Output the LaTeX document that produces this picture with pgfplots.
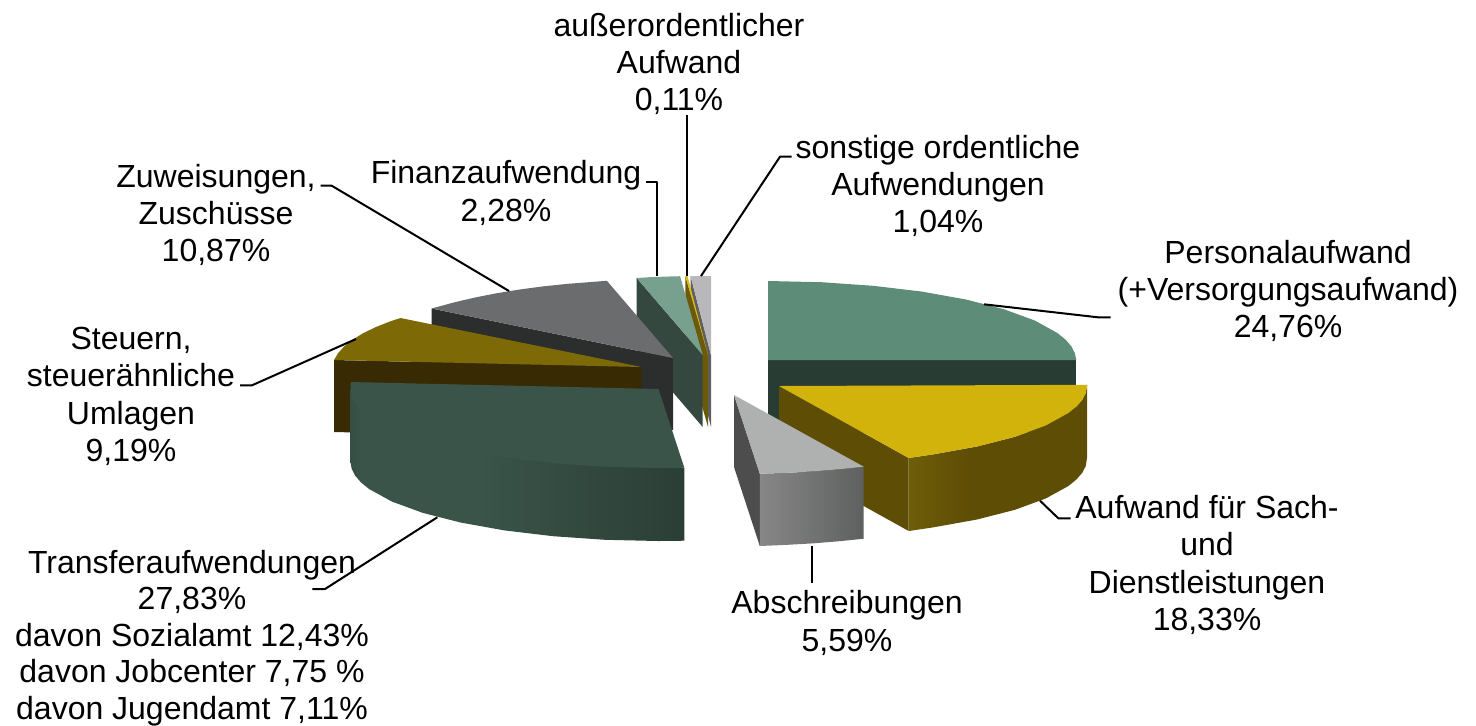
\documentclass[border=0pt]{standalone}
\usepackage{pgfplots}
\pgfplotsset{compat=1.18}
\usepackage{fontspec}
\setmainfont{Liberation Sans}
\definecolor{perT}{HTML}{5D8C79}
\definecolor{perW}{HTML}{293C33}
\definecolor{yelT}{HTML}{D2B30B}
\definecolor{yelW}{HTML}{5E4D05}
\definecolor{yelL}{HTML}{6E5D08}
\definecolor{grT}{HTML}{AFB1B0}
\definecolor{grW}{HTML}{4D4D4D}
\definecolor{grL}{HTML}{878787}
\definecolor{grR}{HTML}{5E5F5F}
\definecolor{trT}{HTML}{3A5449}
\definecolor{trL}{HTML}{364E44}
\definecolor{trR}{HTML}{2B3E36}
\definecolor{stT}{HTML}{7D6A07}
\definecolor{stW}{HTML}{382B03}
\definecolor{zuT}{HTML}{6B6C6E}
\definecolor{zuW}{HTML}{2C2E2E}
\definecolor{fiT}{HTML}{77A08F}
\definecolor{fiW}{HTML}{344840}
\definecolor{auT}{HTML}{D9BA10}
\definecolor{auW}{HTML}{6B5A0C}
\definecolor{soT}{HTML}{B8B8BA}
\definecolor{soW}{HTML}{5F5F60}
\pgfdeclarehorizontalshading{trshade}{100bp}{color(0bp)=(trL); color(25bp)=(trL); color(26.5bp)=(trT); color(44bp)=(trT); color(75bp)=(trR); color(100bp)=(trR)}
\pgfdeclarehorizontalshading{yeshade}{100bp}{color(0bp)=(yelL); color(25bp)=(yelL); color(42bp)=(yelW); color(100bp)=(yelW)}
\pgfdeclarehorizontalshading{grshade}{100bp}{color(0bp)=(grL); color(25bp)=(grL); color(75bp)=(grR); color(100bp)=(grR)}
\pgfplotsset{
  face/.style={draw=none,fill=#1,mark=none,forget plot},
  sface/.style={draw=none,shade,shading=#1,mark=none,forget plot},
  lead/.style={black,line width=1pt,mark=none,forget plot,line join=round}
}
\newcommand{\lab}[3]{\node[align=center,inner sep=0pt,font=\fontsize{16}{18.7}\selectfont] at (axis cs:#1,#2) {#3};}
\begin{document}
\begin{tikzpicture}
\useasboundingbox (0,0) rectangle (738pt,362.5pt);
\begin{axis}[
  anchor=south west, at={(0,0)},
  scale only axis, width=738pt, height=362.5pt,
  xmin=0, xmax=1476, ymin=0, ymax=725, y dir=reverse,
  hide axis, clip=false]
% sonstige ordentliche Aufwendungen
\addplot[face=soW] coordinates {(690.6,276.2)(711,355)(711,427)(690.6,348)} -- cycle;
\addplot[face=soT] coordinates {(690.6,276.2)(700,276)(711,276)(711,355)} -- cycle;
% außerordentlicher Aufwand
\addplot[face=auW] coordinates {(685.4,276.2)(708,355)(708,427)(685.4,348)} -- cycle;
\addplot[face=auT] coordinates {(685.4,276.2)(687.6,276.2)(708,355)} -- cycle;
% Finanzaufwendung
\addplot[face=fiW] coordinates {(636.7,278)(702.7,355)(702.7,427)(636.7,350)} -- cycle;
\addplot[face=fiT] coordinates {(636.7,278)(649.2,277.2)(665.2,276.6)(680.1,276.2)(702.7,355)} -- cycle;
% Zuweisungen, Zuschüsse
\addplot[face=zuW] coordinates {(431.5,308.5)(673,358)(673,430)(431.5,380.5)} -- cycle;
\addplot[face=zuT] coordinates {(606.9,280.8)(567.7,283.8)(542.8,286.4)(519,289.6)(496.3,293.3)(475,297.5)(455.2,302.1)(431.5,308.5)(673,358)} -- cycle;
% Steuern
\addplot[face=stW] coordinates {(334,360)(641.5,367)(641.5,439)(334,432)} -- cycle;
\addplot[face=stT] coordinates {(400.5,318)(389.2,321.7)(374.8,327.5)(362.4,333.6)(352.1,340)(344,346.6)(338,353.3)(334,360)(641.5,367)} -- cycle;
% Personalaufwand
\addplot[face=perW] coordinates {(768,360)(1076,360)(1076,432)(768,432)} -- cycle;
\addplot[face=perT] coordinates {(768,281)(821.5,282.2)(873.3,285.8)(922,291.6)(966,299.5)(1003.9,309.2)(1034.7,320.5)(1057.4,333)(1065.5,339.6)(1071.3,346.3)(1074.8,353.1)(1076,358.8)(1076,360)(768,360)} -- cycle;
% Transferaufwendungen
\addplot[sface=trshade] coordinates {(684.3,467.7)(658.5,464)(605,462.8)(553.2,459.2)(504.5,453.4)(460.5,445.5)(422.6,435.8)(391.8,424.5)(369.1,412)(361,405.4)(355.2,398.7)(351.7,391.9)(350.5,389)(350.5,462)(351.7,468.9)(355.2,475.7)(361,482.4)(369.1,489)(391.8,501.5)(422.6,512.8)(460.5,522.5)(504.5,530.4)(553.2,536.2)(605,539.8)(658.5,541)(684.3,540.7)} -- cycle;
\addplot[face=trT] coordinates {(658.5,389)(684.3,467.7)(658.5,468)(605,466.8)(553.2,463.2)(504.5,457.4)(460.5,449.5)(422.6,439.8)(391.8,428.5)(369.1,416)(361,409.4)(355.2,402.7)(351.7,395.9)(350.5,389)(350.5,382)} -- cycle;
% Aufwand für Sach- und Dienstleistungen
\addplot[face=yelW] coordinates {(779,386)(908.7,458)(908.7,531)(779,459)} -- cycle;
\addplot[sface=yeshade] coordinates {(1087,384.8)(1085.8,392.9)(1082.3,399.7)(1076.5,406.4)(1068.4,413)(1045.7,425.5)(1014.9,436.8)(977,446.5)(933,454.4)(908.7,458)(908.7,531)(933,527.4)(977,519.5)(1014.9,509.8)(1045.7,498.5)(1068.4,486)(1076.5,479.4)(1082.3,472.7)(1085.8,465.9)(1087,457.8)} -- cycle;
\addplot[face=yelT] coordinates {(779,386)(1087,384.8)(1085.8,392.9)(1082.3,399.7)(1076.5,406.4)(1068.4,413)(1045.7,425.5)(1014.9,436.8)(977,446.5)(933,454.4)(908.7,458)} -- cycle;
% Abschreibungen
\addplot[face=grW] coordinates {(734,395)(759.8,473.7)(759.8,546)(734,467)} -- cycle;
\addplot[sface=grshade] coordinates {(863.7,466.7)(839.3,469.2)(813.7,471.3)(787.5,472.8)(759.8,473.7)(759.8,546)(787.5,544.8)(813.7,543.3)(839.3,541.2)(863.7,538.7)} -- cycle;
\addplot[face=grT] coordinates {(734,395)(863.7,466.7)(839.3,469.2)(813.7,471.3)(787.5,472.8)(759.8,473.7)} -- cycle;
% leader lines
\addplot[lead] coordinates {(984,304.3)(1098,317.3)(1110.7,317.3)};
\addplot[lead] coordinates {(1040,500.7)(1058.3,518.3)(1070.7,518.3)};
\addplot[lead] coordinates {(811.7,546)(811.7,583)};
\addplot[lead] coordinates {(437.3,517.3)(325,589)(312.3,589)};
\addplot[lead] coordinates {(356,339)(252,385.3)(240,385.3)};
\addplot[lead] coordinates {(509,291)(331.7,185.7)(320.7,185.7)};
\addplot[lead] coordinates {(657.3,276)(657.3,181.7)(646,181.7)};
\addplot[lead] coordinates {(686.7,276)(686.7,115.3)};
\addplot[lead] coordinates {(701,276)(780,156.7)(791.7,156.7)};
% labels
\lab{679}{64}{außerordentlicher\\Aufwand\\0,11\%}
\lab{938}{186}{sonstige ordentliche\\Aufwendungen\\1,04\%}
\lab{1288}{291}{Personalaufwand\\(+Versorgungsaufwand)\\24,76\%}
\lab{1207}{565}{Aufwand für Sach-\\und\\Dienstleistungen\\18,33\%}
\lab{847}{623}{Abschreibungen\\5,59\%}
\node[align=center,inner sep=0pt,font=\fontsize{16}{18.3}\selectfont] at (axis cs:192,638) {Transferaufwendungen\\27,83\%\\davon Sozialamt 12,43\%\\davon Jobcenter 7,75 \%\\davon Jugendamt 7,11\%};
\lab{131}{396.5}{Steuern,\\steuerähnliche\\Umlagen\\9,19\%}
\lab{216}{215}{Zuweisungen,\\Zuschüsse\\10,87\%}
\lab{506}{193}{Finanzaufwendung\\2,28\%}
\end{axis}
\end{tikzpicture}
\end{document}
